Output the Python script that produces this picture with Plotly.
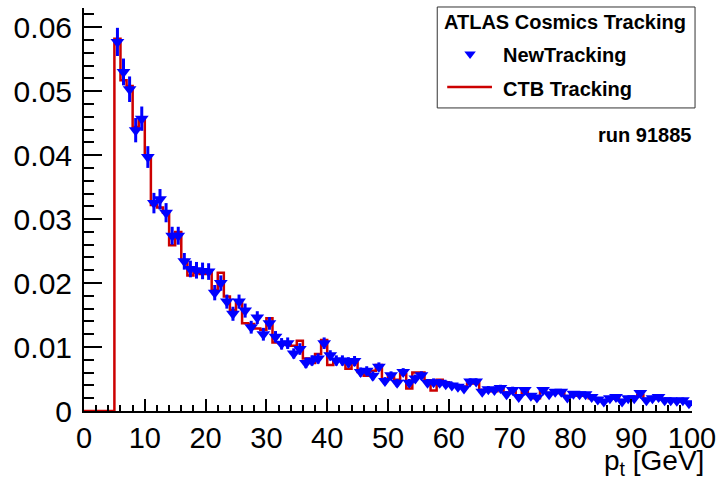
import plotly.graph_objects as go

# Track transverse momentum spectra, 1 GeV bins from 5 to 100 GeV
bin_low = list(range(5, 100))

new_tracking = [
    0.0577, 0.0530, 0.0503, 0.0439, 0.0457, 0.0397, 0.0325, 0.0331, 0.0310, 0.0274,
    0.0274, 0.0234, 0.0222, 0.0220, 0.0219, 0.0218, 0.0185, 0.0200, 0.0171, 0.0152,
    0.0171, 0.0157, 0.0131, 0.0146, 0.0120, 0.0137, 0.0116, 0.0105, 0.0106, 0.0090,
    0.0097, 0.0075, 0.0079, 0.0082, 0.0106, 0.0087, 0.0079, 0.0079, 0.0076, 0.0078,
    0.0061, 0.0063, 0.0055, 0.0069, 0.0047, 0.0056, 0.0044, 0.0061, 0.0044, 0.0051,
    0.0056, 0.0044, 0.0045, 0.0044, 0.0042, 0.0040, 0.0038, 0.0035, 0.0046, 0.0046,
    0.0030, 0.0034, 0.0033, 0.0036, 0.0026, 0.0033, 0.0022, 0.0033, 0.0024, 0.0021,
    0.0033, 0.0026, 0.0030, 0.0030, 0.0021, 0.0027, 0.0026, 0.0026, 0.0022, 0.0018,
    0.0015, 0.0020, 0.0022, 0.0015, 0.0020, 0.0020, 0.0028, 0.0017, 0.0020, 0.0022,
    0.0017, 0.0017, 0.0016, 0.0017, 0.0012,
]

new_tracking_err = [
    0.0022, 0.0021, 0.0020, 0.0019, 0.0019, 0.0017, 0.0016, 0.0016, 0.0015, 0.0014,
    0.0014, 0.0013, 0.0013, 0.0013, 0.0013, 0.0013, 0.0012, 0.0012, 0.0011, 0.0011,
    0.0011, 0.0011, 0.0010, 0.0010, 0.0010, 0.0010, 0.0009, 0.0009, 0.0009, 0.0008,
    0.0009, 0.0008, 0.0008, 0.0008, 0.0009, 0.0008, 0.0008, 0.0008, 0.0008, 0.0008,
    0.0007, 0.0007, 0.0007, 0.0007, 0.0006, 0.0006, 0.0006, 0.0006, 0.0006, 0.0006,
    0.0006, 0.0006, 0.0006, 0.0006, 0.0006, 0.0005, 0.0005, 0.0005, 0.0005, 0.0005,
    0.0005, 0.0005, 0.0005, 0.0005, 0.0005, 0.0005, 0.0004, 0.0004, 0.0004, 0.0004,
    0.0004, 0.0004, 0.0004, 0.0004, 0.0004, 0.0004, 0.0004, 0.0004, 0.0004, 0.0004,
    0.0004, 0.0004, 0.0004, 0.0004, 0.0004, 0.0004, 0.0004, 0.0004, 0.0004, 0.0004,
    0.0004, 0.0004, 0.0004, 0.0004, 0.0004,
]

ctb_tracking = [
    0.0582, 0.0517, 0.0508, 0.0444, 0.0457, 0.0400, 0.0322, 0.0318, 0.0310, 0.0259,
    0.0280, 0.0236, 0.0212, 0.0216, 0.0214, 0.0216, 0.0189, 0.0216, 0.0179, 0.0158,
    0.0173, 0.0137, 0.0136, 0.0129, 0.0127, 0.0145, 0.0107, 0.0106, 0.0104, 0.0102,
    0.0110, 0.0082, 0.0075, 0.0089, 0.0111, 0.0072, 0.0079, 0.0080, 0.0066, 0.0076,
    0.0061, 0.0055, 0.0063, 0.0072, 0.0049, 0.0056, 0.0049, 0.0058, 0.0035, 0.0060,
    0.0060, 0.0048, 0.0032, 0.0049, 0.0045, 0.0041, 0.0040, 0.0038, 0.0043, 0.0048,
    0.0033, 0.0034, 0.0031, 0.0037, 0.0028, 0.0031, 0.0024, 0.0031, 0.0026, 0.0020,
    0.0031, 0.0027, 0.0028, 0.0030, 0.0023, 0.0026, 0.0024, 0.0027, 0.0020, 0.0019,
    0.0016, 0.0019, 0.0024, 0.0016, 0.0019, 0.0022, 0.0025, 0.0018, 0.0019, 0.0021,
    0.0018, 0.0016, 0.0017, 0.0015, 0.0013,
]

x_ticks = [0, 10, 20, 30, 40, 50, 60, 70, 80, 90, 100]
y_ticks = [0, 0.01, 0.02, 0.03, 0.04, 0.05, 0.06]
empty_low_bins = [0, 1, 2, 3, 4]

BLUE = "#0000ff"
RED = "#cc0000"
FONT = "Liberation Sans, Arial, Helvetica, sans-serif"

# Step outline of the reference histogram over the full 0-100 range
step_x = empty_low_bins + bin_low + [100]
step_y = [0.0] * len(empty_low_bins) + ctb_tracking + [ctb_tracking[-1]]
centres = [b + 0.5 for b in bin_low]

fig = go.Figure()

fig.add_trace(go.Scatter(
    x=step_x, y=step_y, mode="lines", line_shape="hv",
    line=dict(color=RED, width=2.5), name="CTB Tracking",
    showlegend=False, cliponaxis=False,
))

fig.add_trace(go.Scatter(
    x=centres, y=new_tracking, mode="markers", name="NewTracking",
    marker=dict(symbol="triangle-down", size=12, color=BLUE, line=dict(width=0)),
    error_y=dict(type="data", array=new_tracking_err, visible=True,
                 color=BLUE, thickness=3, width=0),
    showlegend=False,
))

# Legend keys drawn on an overlay axis spanning the plot area in [0, 1] units
fig.add_trace(go.Scatter(
    x=[0.635], y=[0.886], mode="markers", xaxis="x2", yaxis="y2",
    marker=dict(symbol="triangle-down", size=10, color=BLUE),
    showlegend=False, hoverinfo="skip",
))
fig.add_trace(go.Scatter(
    x=[0.5974, 0.671], y=[0.804, 0.804], mode="lines", xaxis="x2", yaxis="y2",
    line=dict(color=RED, width=2.5), showlegend=False, hoverinfo="skip",
))

fig.update_layout(
    width=724, height=482,
    margin=dict(l=84, r=29, t=8, b=71),
    paper_bgcolor="white", plot_bgcolor="white",
    font=dict(family=FONT, color="black"),
    showlegend=False,
    xaxis=dict(
        range=[0, 100], tickvals=x_ticks, ticks="inside", ticklen=12, tickwidth=1.5,
        tickcolor="black", showline=True, linecolor="black", linewidth=2,
        showgrid=False, zeroline=False, tickfont=dict(size=29, family=FONT),
        minor=dict(ticks="inside", ticklen=6, dtick=2, tickwidth=1.5, tickcolor="black", showgrid=False),
    ),
    yaxis=dict(
        range=[0, 0.063], tickvals=y_ticks, ticks="inside", ticklen=18, tickwidth=1.5,
        tickcolor="black", showline=True, linecolor="black", linewidth=2,
        showgrid=False, zeroline=False, tickfont=dict(size=30, family=FONT),
        ticklabelstandoff=4,
        minor=dict(ticks="inside", ticklen=10, dtick=0.002, tickwidth=1.5, tickcolor="black", showgrid=False),
    ),
    xaxis2=dict(range=[0, 1], overlaying="x", visible=False, fixedrange=True),
    yaxis2=dict(range=[0, 1], overlaying="y", visible=False, fixedrange=True),
    shapes=[dict(
        type="rect", xref="paper", yref="paper",
        x0=0.581, x1=1.005, y0=0.752, y1=1.0025,
        line=dict(color="#333333", width=1), fillcolor="white", layer="below",
    )],
    annotations=[
        dict(text="<b>ATLAS Cosmics Tracking</b>", xref="paper", yref="paper",
             x=0.7913, y=0.9653, xanchor="center", yanchor="middle", showarrow=False,
             font=dict(size=20, family=FONT)),
        dict(text="<b>NewTracking</b>", xref="paper", yref="paper",
             x=0.6858, y=0.8834, xanchor="left", yanchor="middle", showarrow=False,
             font=dict(size=20, family=FONT)),
        dict(text="<b>CTB Tracking</b>", xref="paper", yref="paper",
             x=0.6858, y=0.799, xanchor="left", yanchor="middle", showarrow=False,
             font=dict(size=20, family=FONT)),
        dict(text="<b>run 91885</b>", xref="paper", yref="paper",
             x=1.0016, y=0.685, xanchor="right", yanchor="middle", showarrow=False,
             font=dict(size=20, family=FONT)),
        dict(text="p<sub>t</sub> [GeV]", xref="paper", yref="paper",
             x=1.023, y=-0.1762, xanchor="right", yanchor="bottom", yshift=0, showarrow=False,
             font=dict(size=28, family=FONT)),
    ],
)

fig.write_html("out.html")
